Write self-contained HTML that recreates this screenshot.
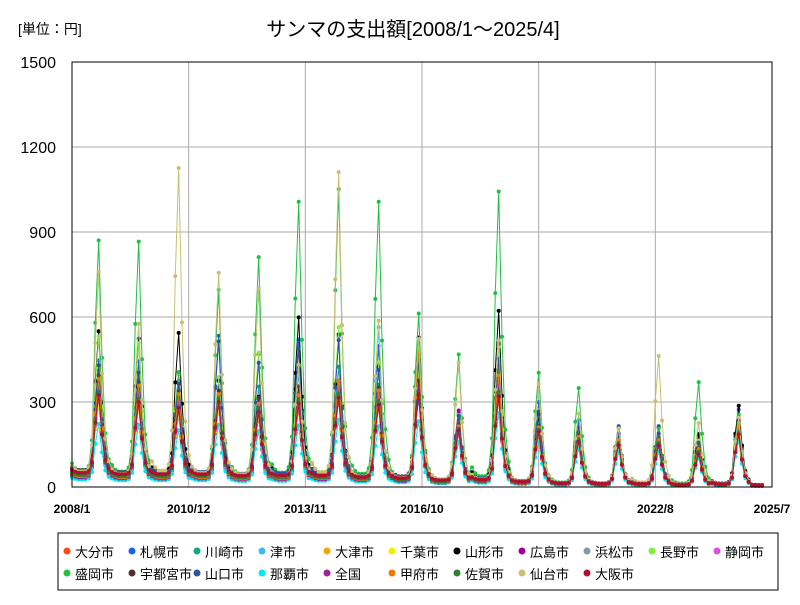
<!DOCTYPE html>
<html><head><meta charset="utf-8">
<style>
body{margin:0;background:#fff;font-family:"Liberation Sans","Noto Sans CJK JP",sans-serif;}
svg text{font-family:"Liberation Sans","Noto Sans CJK JP",sans-serif;}
</style></head>
<body>
<svg id="chart" width="800" height="600">
<text x="18" y="34" font-size="14">[単位：円]</text>
<text x="413" y="36" font-size="20" text-anchor="middle">サンマの支出額[2008/1～2025/4]</text>
<g id="grid"></g>
<g id="series"></g>
<rect x="72" y="62" width="700" height="425" fill="none" stroke="#000"/>
<g id="legend"></g>
</svg>
<script>
const yTicks=[0,300,600,900,1200,1500];
const xTickLabels=["2008/1","2010/12","2013/11","2016/10","2019/9","2022/8","2025/7"];
const seriesNames=["大分市","札幌市","川崎市","津市","大津市","千葉市","山形市","広島市","浜松市","長野市","静岡市","盛岡市","宇都宮市","山口市","那覇市","全国","甲府市","佐賀市","仙台市","大阪市"];
const seriesColors=["#ff4a10","#1f60e8","#10a880","#40b8f0","#f0a800","#f0f000","#000000","#a000a0","#8898a8","#80f040","#e050e0","#20c040","#503030","#3050a0","#00e8f0","#a020a0","#f07800","#308030","#c8c070","#b01030"];
// monthly seasonal shape (Jan..Dec)
const shape=[0.05,0.03,0.02,0.02,0.02,0.04,0.15,0.65,1.0,0.5,0.18,0.07];
// off-season base per year 2008..2025
const offBase=[45,40,40,40,35,35,35,30,25,20,20,15,10,8,8,6,6,6];
// annual peak values per series, 2008..2025
const peaks=[
[300,280,250,260,230,260,300,280,450,180,300,180,170,180,170,120,200,40],
[420,420,350,510,450,500,510,480,440,250,480,290,230,210,210,180,270,30],
[380,360,300,350,330,380,400,340,380,220,400,230,190,170,170,140,220,30],
[260,250,220,260,240,270,280,540,300,200,330,200,160,150,150,120,200,30],
[320,300,280,300,260,280,330,320,330,200,360,200,170,160,160,130,210,30],
[250,240,220,240,220,260,280,260,300,180,330,180,150,140,140,110,180,30],
[500,480,500,330,280,560,500,390,500,230,600,240,180,200,200,180,280,30],
[330,310,280,300,270,300,320,300,330,260,350,200,170,160,160,120,200,30],
[300,280,260,280,250,280,300,280,300,190,320,190,160,150,150,120,190,30],
[500,480,370,360,450,400,540,420,400,240,480,260,200,180,180,160,220,30],
[280,260,240,260,230,260,280,260,300,180,300,180,150,140,140,110,180,30],
[830,830,370,660,780,975,1020,980,590,450,1025,390,340,200,200,365,250,30],
[350,330,300,300,280,320,340,320,350,200,350,200,170,160,160,130,200,30],
[380,360,320,470,400,450,480,380,420,230,430,250,200,180,180,150,240,30],
[200,200,180,200,180,200,220,200,220,150,250,150,130,120,120,100,160,30],
[330,310,280,300,270,300,320,300,330,200,350,200,170,160,160,130,200,30],
[350,330,300,300,270,300,350,320,460,200,380,200,170,160,160,130,210,30],
[300,280,250,280,250,280,300,280,300,190,320,190,160,150,150,120,190,30],
[720,540,1090,720,670,400,1080,560,500,420,500,350,250,200,455,220,240,30],
[280,260,240,260,230,260,280,260,300,180,300,180,150,140,140,110,180,30]
];
const nMonths=208;
const X0=72,X1=772,Y0=487,Y1=62;
const xScale=m=>X0+m*(X1-X0)/210;
const yScale=v=>Y0-v*(Y0-Y1)/1500;
const NS="http://www.w3.org/2000/svg";
const grid=document.getElementById('grid');
yTicks.forEach(t=>{
  const y=yScale(t);
  if(t>0&&t<1500){const l=document.createElementNS(NS,'line');
  l.setAttribute('x1',X0);l.setAttribute('x2',X1);l.setAttribute('y1',y);l.setAttribute('y2',y);l.setAttribute('stroke','#aaa');
  
  
  grid.appendChild(l);}
  const tx=document.createElementNS(NS,'text');
  tx.setAttribute('x',56);tx.setAttribute('y',y+6);tx.setAttribute('text-anchor','end');tx.setAttribute('font-size','16');
  tx.textContent=t;
  
  
  grid.appendChild(tx);
});
xTickLabels.forEach((s,i)=>{
  const x=xScale(i*35);
  if(i>0&&i<6){const l=document.createElementNS(NS,'line');
  l.setAttribute('x1',x);l.setAttribute('x2',x);l.setAttribute('y1',Y1);l.setAttribute('y2',Y0);l.setAttribute('stroke','#aaa');
  
  
  grid.appendChild(l);}
  const tx=document.createElementNS(NS,'text');
  tx.setAttribute('x',x);tx.setAttribute('y',513);tx.setAttribute('text-anchor','middle');tx.setAttribute('font-size','12');tx.setAttribute('font-weight','bold');
  tx.textContent=s;
  
  
  grid.appendChild(tx);
});
const sg=document.getElementById('series');
peaks.forEach((pk,si)=>{
  const g=document.createElementNS(NS,'g');
  
  
  const pts=[];
  for(let m=0;m<nMonths;m++){
    const yr=Math.floor(m/12),mo=m%12;
    const v=offBase[yr]*(0.5+0.1*(si%7))+shape[mo]*pk[yr];
    pts.push([xScale(m),yScale(v)]);
  }
  const pl=document.createElementNS(NS,'polyline');
  pl.setAttribute('points',pts.map(p=>p[0].toFixed(1)+','+p[1].toFixed(1)).join(' '));
  pl.setAttribute('fill','none');pl.setAttribute('stroke',seriesColors[si]);pl.setAttribute('stroke-width','1');
  
  
  g.appendChild(pl);
  pts.forEach(p=>{const c=document.createElementNS(NS,'circle');
    c.setAttribute('cx',p[0].toFixed(1));c.setAttribute('cy',p[1].toFixed(1));c.setAttribute('r','2');c.setAttribute('fill',seriesColors[si]);
    
    
    g.appendChild(c);});
  sg.appendChild(g);
});
const lg=document.getElementById('legend');
const box=document.createElementNS(NS,'rect');
box.setAttribute('x',58);box.setAttribute('y',533);box.setAttribute('width',720);box.setAttribute('height',57);box.setAttribute('fill','#fff');box.setAttribute('stroke','#000');


lg.appendChild(box);
seriesNames.forEach((n,i)=>{
  const row=i<11?0:1,col=i<11?i:i-11;
  const x=64+col*65,y=row?574:552;
  const g=document.createElementNS(NS,'g');
  
  
  const c=document.createElementNS(NS,'circle');
  c.setAttribute('cx',x+3);c.setAttribute('cy',y-1);c.setAttribute('r',3.5);c.setAttribute('fill',seriesColors[i]);
  
  
  g.appendChild(c);
  const t=document.createElementNS(NS,'text');
  t.setAttribute('x',x+11);t.setAttribute('y',y+5);t.setAttribute('font-size','13');t.textContent=n;
  
  
  g.appendChild(t);
  lg.appendChild(g);
});
</script>
</body></html>
